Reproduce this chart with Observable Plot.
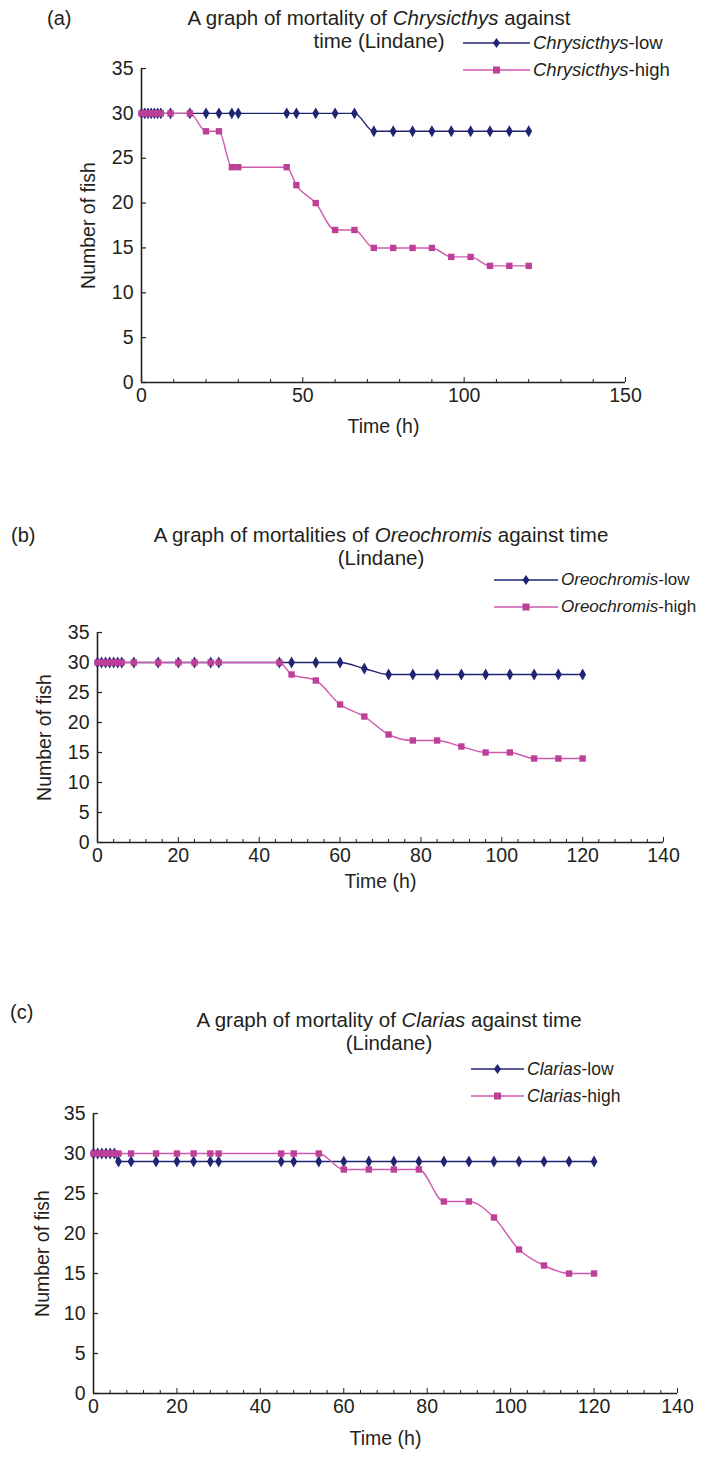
<!DOCTYPE html>
<html>
<head>
<meta charset="utf-8">
<script src="https://cdn.jsdelivr.net/npm/d3@7"></script>
<script src="https://cdn.jsdelivr.net/npm/@observablehq/plot@0.6"></script>
<style>
  html, body { margin: 0; padding: 0; background: #ffffff; }
  body { width: 701px; height: 1457px; position: relative; overflow: hidden;
         font-family: "Liberation Sans", Arial, sans-serif; color: #231f20; }
  .title { position: absolute; width: 640px; text-align: center; font-size: 20.5px; line-height: 24px; white-space: nowrap; }
  .tag { position: absolute; font-size: 20px; line-height: 24px; }
  .leg { position: absolute; white-space: nowrap; display: flex; align-items: center; height: 24px; }
  .leg svg { margin-right: 3px; }
  .panel { position: absolute; left: 0; }
</style>
</head>
<body>
<script>
// ---- data ----
const times = [0, 1, 2, 3, 4, 5, 6, 9, 15, 20, 24, 28, 30, 45, 48, 54, 60, 66, 72, 78, 84, 90, 96, 102, 108, 114, 120];

const chrysicthysLow  = [30, 30, 30, 30, 30, 30, 30, 30, 30, 30, 30, 30, 30, 30, 30, 30, 30, 30, 28, 28, 28, 28, 28, 28, 28, 28, 28];
const chrysicthysHigh = [30, 30, 30, 30, 30, 30, 30, 30, 30, 28, 28, 24, 24, 24, 22, 20, 17, 17, 15, 15, 15, 15, 14, 14, 13, 13, 13];

const oreochromisLow  = [30, 30, 30, 30, 30, 30, 30, 30, 30, 30, 30, 30, 30, 30, 30, 30, 30, 29, 28, 28, 28, 28, 28, 28, 28, 28, 28];
const oreochromisHigh = [30, 30, 30, 30, 30, 30, 30, 30, 30, 30, 30, 30, 30, 30, 28, 27, 23, 21, 18, 17, 17, 16, 15, 15, 14, 14, 14];

const clariasLow  = [30, 30, 30, 30, 30, 30, 29, 29, 29, 29, 29, 29, 29, 29, 29, 29, 29, 29, 29, 29, 29, 29, 29, 29, 29, 29, 29];
const clariasHigh = [30, 30, 30, 30, 30, 30, 30, 30, 30, 30, 30, 30, 30, 30, 30, 30, 28, 28, 28, 28, 24, 24, 22, 18, 16, 15, 15];

const yTicks = [0, 5, 10, 15, 20, 25, 30, 35];
const xTicksA = [0, 50, 100, 150];
const xMinorA = [10, 20, 30, 40, 60, 70, 80, 90, 110, 120, 130, 140];
const xTicksBC = [0, 20, 40, 60, 80, 100, 120, 140];
const xMinorBC = [4, 8, 12, 16, 24, 28, 32, 36, 44, 48, 52, 56, 64, 68, 72, 76, 84, 88, 92, 96, 104, 108, 112, 116, 124, 128, 132, 136];

// ---- style ----
const NAVY = "#1f2473";
const PINK_LINE = "#cf5aae";
const PINK_MARK = "#be3f98";
const INK = "#231f20";
const FONT = "'Liberation Sans', Arial, sans-serif";

const panels = [
  { tag: "(a)", genus: "Chrysicthys", low: chrysicthysLow, high: chrysicthysHigh,
    top: 0, height: 440, mt: 68, mb: 58, ml: 141, mr: 76, xDomain: [0, 150], xTicks: xTicksA, xMinor: xMinorA,
    xLabelOffset: 50, yLabelOffset: 60,
    titleHTML: ["A graph of mortality of <i>Chrysicthys</i> against", "time (Lindane)"],
    titleTop: 6, titleCx: 379, tagX: 47, tagY: 6,
    legX: 463, legY: 31, legLine: 67, legFont: 18.5 },
  { tag: "(b)", genus: "Oreochromis", low: oreochromisLow, high: oreochromisHigh,
    top: 500, height: 400, mt: 132, mb: 58, ml: 97, mr: 38, xDomain: [0, 140], xTicks: xTicksBC, xMinor: xMinorBC,
    xLabelOffset: 45, yLabelOffset: 60,
    titleHTML: ["A graph of mortalities of <i>Oreochromis</i> against time", "(Lindane)"],
    titleTop: 523, titleCx: 381, tagX: 11, tagY: 523,
    legX: 494, legY: 568, legLine: 64, legFont: 17 },
  { tag: "(c)", genus: "Clarias", low: clariasLow, high: clariasHigh,
    top: 990, height: 467, mt: 123, mb: 64, ml: 93, mr: 24, xDomain: [0, 140], xTicks: xTicksBC, xMinor: xMinorBC,
    xLabelOffset: 51, yLabelOffset: 58,
    titleHTML: ["A graph of mortality of <i>Clarias</i> against time", "(Lindane)"],
    titleTop: 1008, titleCx: 389, tagX: 10, tagY: 1000,
    legX: 471, legY: 1057, legLine: 53, legFont: 17.5 }
];

function legendItem(kind, len) {
  const mid = len / 2;
  const marker = kind === "low"
    ? `<path d="M${mid},7 L${mid + 3.5},12 L${mid},17 L${mid - 3.5},12 Z" fill="${NAVY}"/>`
    : `<rect x="${mid - 3.5}" y="8.5" width="7" height="7" fill="${PINK_MARK}"/>`;
  const col = kind === "low" ? NAVY : PINK_LINE;
  return `<svg width="${len}" height="24"><line x1="0" x2="${len}" y1="12" y2="12" stroke="${col}" stroke-width="1.4"/>${marker}</svg>`;
}

for (const p of panels) {
  const rowsLow = times.map((t, i) => ({ t, v: p.low[i] }));
  const rowsHigh = times.map((t, i) => ({ t, v: p.high[i] }));
  const plotW = 701 - p.ml - p.mr;
  const plotH = p.height - p.mt - p.mb;

  const chart = Plot.plot({
    width: 701,
    height: p.height,
    marginTop: p.mt, marginBottom: p.mb, marginLeft: p.ml, marginRight: p.mr,
    style: { fontFamily: FONT, fontSize: "19.5px", color: INK, background: "transparent", overflow: "visible" },
    x: { domain: p.xDomain },
    y: { domain: [0, 35] },
    marks: [
      Plot.tickX(p.xMinor, { x: d => d, stroke: INK, strokeWidth: 1, insetTop: plotH - 3 }),
      Plot.tickX(p.xTicks, { x: d => d, stroke: INK, strokeWidth: 1, insetTop: plotH - 5 }),
      Plot.tickY(yTicks, { y: d => d, stroke: INK, strokeWidth: 1.2, insetRight: plotW - 5 }),
      Plot.ruleY([0], { stroke: INK, strokeWidth: 1.6 }),
      Plot.ruleX([0], { stroke: INK, strokeWidth: 1.6 }),
      Plot.axisX({ ticks: p.xTicks, tickSize: 0, tickPadding: 6, tickFormat: d => d,
                   label: "Time (h)", labelAnchor: "center", labelArrow: "none", labelOffset: p.xLabelOffset }),
      Plot.axisY({ ticks: yTicks, tickSize: 0, tickPadding: 8, tickFormat: d => d,
                   label: "Number of fish", labelAnchor: "center", labelArrow: "none", labelOffset: p.yLabelOffset }),
      Plot.line(rowsLow, { x: "t", y: "v", stroke: NAVY, strokeWidth: 1.4, curve: "monotone-x" }),
      Plot.dot(rowsLow, { x: "t", y: "v", symbol: "diamond", r: 3.6, fill: NAVY, stroke: "none" }),
      Plot.line(rowsHigh, { x: "t", y: "v", stroke: PINK_LINE, strokeWidth: 1.4, curve: "monotone-x" }),
      Plot.dot(rowsHigh, { x: "t", y: "v", symbol: "square", r: 3.6, fill: PINK_MARK, stroke: "none" })
    ]
  });
  const wrap = document.createElement("div");
  wrap.className = "panel";
  wrap.style.top = p.top + "px";
  wrap.appendChild(chart);
  document.body.appendChild(wrap);

  // title
  p.titleHTML.forEach((line, i) => {
    const d = document.createElement("div");
    d.className = "title";
    d.style.left = (p.titleCx - 320) + "px";
    d.style.top = (p.titleTop + i * 23) + "px";
    d.innerHTML = line;
    document.body.appendChild(d);
  });
  const tg = document.createElement("div");
  tg.className = "tag";
  tg.style.left = p.tagX + "px";
  tg.style.top = p.tagY + "px";
  tg.textContent = p.tag;
  document.body.appendChild(tg);

  // legend
  ["low", "high"].forEach((k, i) => {
    const d = document.createElement("div");
    d.className = "leg";
    d.style.left = p.legX + "px";
    d.style.top = (p.legY + i * 27) + "px";
    d.style.fontSize = p.legFont + "px";
    d.innerHTML = legendItem(k, p.legLine) + `<span><i>${p.genus}</i>-${k}</span>`;
    document.body.appendChild(d);
  });
}
</script>
</body>
</html>
